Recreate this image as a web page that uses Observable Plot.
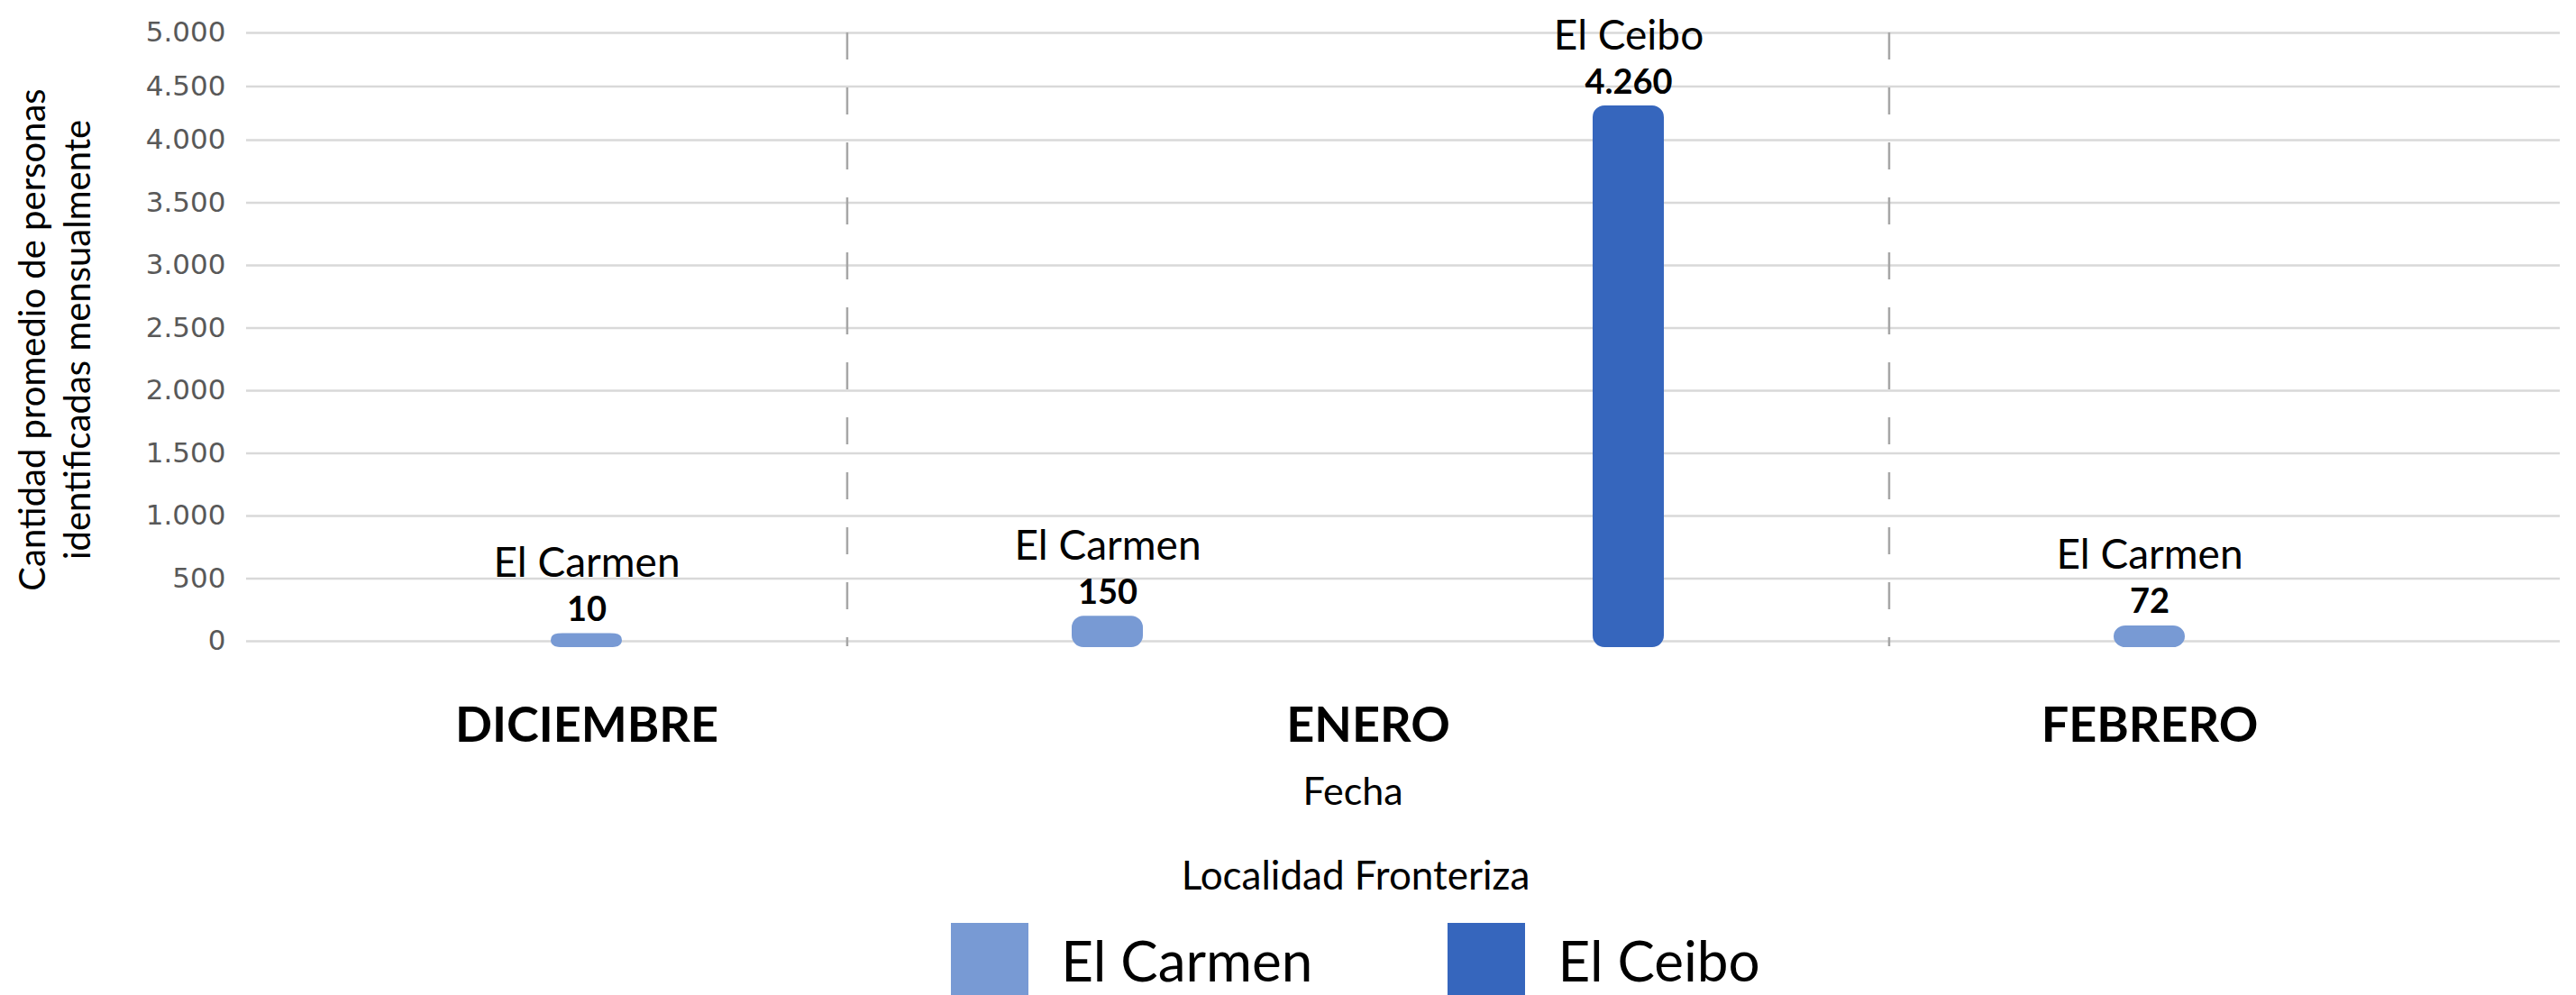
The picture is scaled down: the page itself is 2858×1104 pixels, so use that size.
<!DOCTYPE html>
<html>
<head>
<meta charset="utf-8">
<script src="https://cdn.jsdelivr.net/npm/d3@7"></script>
<script src="https://cdn.jsdelivr.net/npm/@observablehq/plot@0.6"></script>
<style>
  html, body { margin: 0; padding: 0; background: #ffffff; }
  body { width: 2858px; height: 1104px; overflow: hidden; font-family: Lato, "Open Sans", sans-serif; color: #000; }
  #legend { padding-left: 150px; box-sizing: border-box; width: 2858px; }
  #legend .lt { font-size: 44px; height: 60px; line-height: 60px; text-align: center; }
  #legend .items { margin-top: 24px; display: flex; justify-content: center; align-items: center; }
  #legend .item { display: flex; align-items: center; }
  #legend .sw { width: 86px; height: 82px; margin-right: 36px; }
  #legend .lab { font-size: 62px; line-height: 82px; }
</style>
</head>
<body>
<div id="chart"></div>
<div id="legend"></div>
<script>
// ---- data ----
const months = ["DICIEMBRE", "ENERO", "FEBRERO"];
const localities = ["El Carmen", "El Ceibo"];
const rowMonth = ["DICIEMBRE", "ENERO", "ENERO", "FEBRERO"];
const rowLocality = ["El Carmen", "El Carmen", "El Ceibo", "El Carmen"];
const rowValue = [10, 150, 4260, 72];
const yTicks = [0, 500, 1000, 1500, 2000, 2500, 3000, 3500, 4000, 4500, 5000];
const colors = ["#789AD4", "#3666BD"];
const yTitleLines = ["Cantidad promedio de personas", "identificadas mensualmente"];
const xTitle = "Fecha";
const legendTitle = "Localidad Fronteriza";

// ---- build table ----
const data = rowValue.map((v, i) => ({
  month: rowMonth[i],
  locality: rowLocality[i],
  value: v,
  slot: rowMonth[i] + "|" + rowLocality[i]
}));
const slots = data.map(d => d.slot);
const fmt = d3.formatLocale({decimal: ",", thousands: ".", grouping: [3], currency: ["$", ""]}).format(",d");

const W = 2858, H = 940, mL = 273, mR = 18, mT = 36, mB = 223;
const padIn = 0.8875, padOut = 0.664, align = 0.4486;
const step = (W - mL - mR) / (slots.length - padIn + 2 * padOut);

const monthMarks = months.map(m => {
  const ms = data.filter(d => d.month === m).map(d => d.slot);
  return Plot.text([m], {
    x: () => ms[0], dx: (ms.length - 1) * step / 2,
    frameAnchor: "bottom", dy: 105, lineAnchor: "bottom",
    fontSize: 54, fontWeight: 700, fill: "#000"
  });
});
const janSlots = data.filter(d => d.month === months[1]).map(d => d.slot);
const separators = months.slice(1).map(m => data.find(d => d.month === m).slot);

const chart = Plot.plot({
  width: W,
  height: H,
  marginLeft: mL,
  marginRight: mR,
  marginTop: mT,
  marginBottom: mB,
  style: {fontFamily: "Lato, 'Open Sans', sans-serif", background: "#ffffff", overflow: "visible"},
  x: {domain: slots, paddingInner: padIn, paddingOuter: padOut, align: align, axis: null},
  y: {type: "linear", domain: [0, 4000, 5000], range: [711, 155, 36], axis: null},
  color: {domain: localities, range: colors},
  marks: [
    Plot.ruleY(yTicks, {y: d => d, stroke: "#d9d9d9", strokeWidth: 2.5}),
    Plot.ruleX(separators, {x: d => d, dx: -step / 2, stroke: "#a6a6a6", strokeWidth: 2.5, strokeDasharray: "30,31"}),
    Plot.axisY(yTicks, {tickSize: 0, tickPadding: 23, tickFormat: fmt, fontSize: 31,
      fontFamily: "DejaVu Sans", fill: "#595959", label: null}),
    Plot.barY(data, {x: "slot", y: "value", fill: "locality", stroke: "locality",
      strokeWidth: 14, strokeLinejoin: "round", rx: 6}),
    Plot.text(data, {x: "slot", y: "value", text: d => fmt(d.value), dy: -21, lineAnchor: "bottom",
      fontSize: 38, fontWeight: 700, fill: "#000"}),
    Plot.text(data, {x: "slot", y: "value", text: "locality", dy: -70, lineAnchor: "bottom",
      fontSize: 46, fill: "#000"}),
    ...monthMarks,
    Plot.text([xTitle], {x: () => janSlots[0], dx: (janSlots.length - 1) * step / 2 - 17,
      frameAnchor: "bottom", dy: 175, lineAnchor: "bottom", fontSize: 43, fill: "#000"}),
    Plot.text([yTitleLines.join("\n")], {frameAnchor: "left", textAnchor: "middle", dx: -215, rotate: -90,
      lineAnchor: "middle", lineHeight: 1.25, fontSize: 40, fill: "#000"})
  ]
});
document.getElementById("chart").appendChild(chart);

// ---- legend ----
const leg = d3.select("#legend");
leg.append("div").attr("class", "lt").text(legendTitle);
const items = leg.append("div").attr("class", "items");
localities.forEach((l, i) => {
  const it = items.append("div").attr("class", "item").style("margin-left", i > 0 ? "150px" : "0px");
  it.append("div").attr("class", "sw").style("background", colors[i]);
  it.append("div").attr("class", "lab").text(l);
});
</script>
</body>
</html>
